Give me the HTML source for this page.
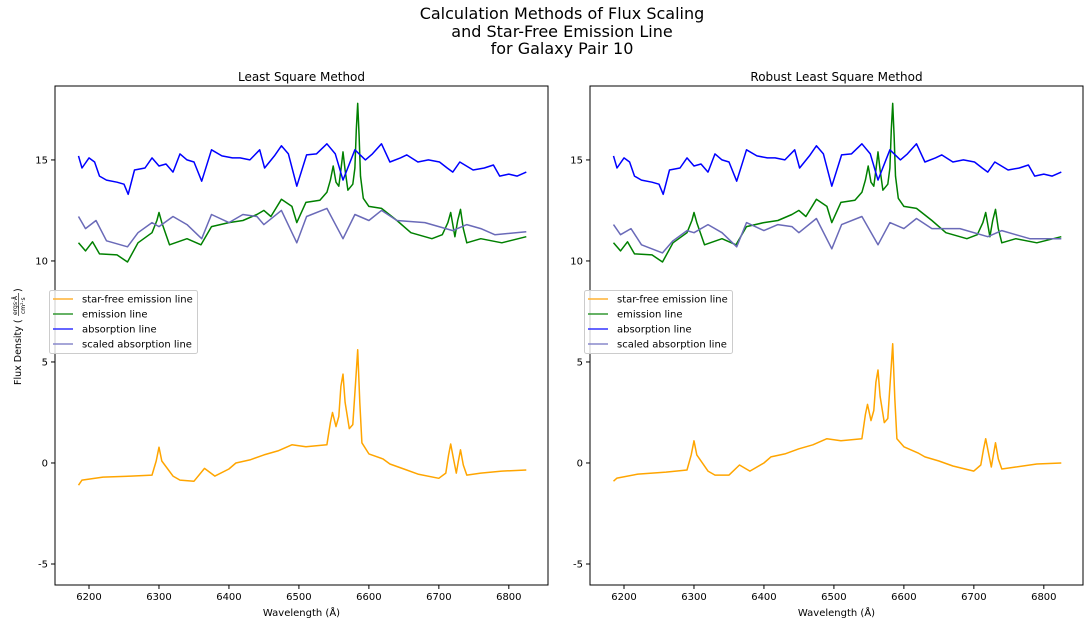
<!DOCTYPE html>
<html><head><meta charset="utf-8">
<style>
body{margin:0;background:#fff;}
svg{display:block;font-family:"DejaVu Sans","Liberation Sans",sans-serif;}
</style></head>
<body>
<svg id="fig" width="1090" height="628" viewBox="0 0 1090 628" xmlns="http://www.w3.org/2000/svg">
<rect width="1090" height="628" fill="#fff"/>
<g font-size="16" text-anchor="middle" fill="#000">
<text x="562" y="19">Calculation Methods of Flux Scaling</text>
<text x="562" y="37">and Star-Free Emission Line</text>
<text x="562" y="54">for Galaxy Pair 10</text>
</g>
<g id="panels"></g>
<g transform="translate(21,385) rotate(-90)" font-size="9.5">
<text x="0" y="0">Flux Density (</text>
<text x="70" y="-4" font-size="6">ergs·Å</text>
<line x1="69" x2="92" y1="-2.5" y2="-2.5" stroke="#000" stroke-width="0.6"/>
<text x="71" y="4" font-size="6">cm²·s</text>
<text x="93" y="0">)</text>
</g>
</svg>
<script>
// wavelength grids and values
const absWl = [6185,6190,6200,6208,6215,6225,6240,6250,6256,6265,6280,6290,6300,6310,6320,6330,6340,6350,6361,6375,6390,6405,6416,6430,6444,6451,6465,6475,6485,6497,6511,6525,6540,6552,6563,6580,6595,6605,6618,6630,6645,6654,6670,6685,6701,6712,6720,6730,6749,6765,6778,6787,6800,6812,6825];
const absVals = [15.2,14.6,15.1,14.9,14.2,14.0,13.9,13.8,13.3,14.5,14.6,15.1,14.7,14.8,14.4,15.3,15.0,14.9,13.95,15.5,15.2,15.1,15.1,15.0,15.5,14.6,15.2,15.7,15.3,13.7,15.25,15.3,15.8,15.3,14.0,15.5,15.0,15.3,15.8,14.9,15.1,15.25,14.9,15.0,14.9,14.6,14.4,14.9,14.5,14.6,14.75,14.2,14.3,14.2,14.4];
const emWl = [6185,6195,6205,6215,6240,6255,6270,6290,6297,6300,6304,6315,6340,6360,6375,6400,6420,6440,6450,6460,6475,6490,6497,6510,6530,6540,6545,6549,6553,6557,6560,6563,6566,6570,6577,6580,6582,6584,6586,6588,6592,6600,6618,6640,6660,6690,6705,6713,6717,6721,6723,6727,6731,6735,6740,6760,6790,6825];
const emVals = [10.9,10.5,10.95,10.35,10.3,9.95,10.9,11.4,12.0,12.4,11.9,10.8,11.1,10.8,11.7,11.9,12.0,12.3,12.5,12.2,13.05,12.7,11.9,12.9,13.0,13.4,14.0,14.7,13.9,13.7,14.5,15.4,14.5,13.5,13.8,14.6,16.5,17.8,16.2,14.2,13.1,12.7,12.6,12.0,11.4,11.1,11.3,11.9,12.4,11.6,11.2,12.0,12.55,11.6,10.9,11.1,10.9,11.2];
const scWl = [6185,6195,6210,6225,6255,6270,6290,6300,6320,6340,6361,6375,6400,6420,6440,6450,6475,6497,6511,6540,6563,6580,6600,6618,6640,6680,6720,6740,6760,6780,6825];
const scValsL = [12.2,11.6,12.0,11.0,10.7,11.4,11.9,11.7,12.2,11.8,11.1,12.3,11.9,12.3,12.2,11.8,12.5,10.9,12.2,12.6,11.1,12.3,12.0,12.5,12.0,11.9,11.5,11.8,11.6,11.3,11.45];
const scValsR = [11.8,11.3,11.6,10.8,10.4,11.0,11.5,11.4,11.8,11.4,10.7,11.9,11.5,11.8,11.7,11.4,12.1,10.6,11.8,12.2,10.8,11.9,11.6,12.1,11.6,11.6,11.2,11.5,11.3,11.1,11.1];
const sfWlL = [6185,6190,6220,6260,6290,6296,6300,6304,6320,6330,6350,6365,6380,6400,6410,6430,6450,6470,6490,6510,6540,6545,6548,6553,6557,6560,6563,6566,6572,6577,6581,6584,6587,6590,6600,6620,6630,6650,6670,6700,6710,6714,6717,6721,6725,6728,6731,6735,6740,6760,6790,6825];
const sfValsL = [-1.1,-0.85,-0.7,-0.65,-0.6,0.1,0.78,0.1,-0.65,-0.85,-0.9,-0.27,-0.65,-0.3,0.0,0.15,0.4,0.6,0.9,0.8,0.9,2.0,2.5,1.8,2.3,3.8,4.4,3.0,1.7,1.9,4.0,5.6,3.0,1.0,0.45,0.2,-0.05,-0.3,-0.55,-0.76,-0.5,0.4,0.94,0.2,-0.5,0.1,0.65,-0.1,-0.6,-0.5,-0.4,-0.35];
const sfValsR = [-0.9,-0.75,-0.55,-0.45,-0.35,0.4,1.1,0.4,-0.4,-0.6,-0.6,-0.1,-0.4,0.0,0.3,0.45,0.7,0.9,1.2,1.1,1.2,2.4,2.9,2.1,2.6,4.0,4.6,3.3,2.0,2.2,4.3,5.9,3.2,1.2,0.8,0.5,0.3,0.1,-0.15,-0.4,-0.1,0.7,1.2,0.5,-0.2,0.4,1.0,0.2,-0.3,-0.2,-0.05,0.0];
const xTicks = [6200,6300,6400,6500,6600,6700,6800];
const yTicks = [-5,0,5,10,15];
const panelTitles = ["Least Square Method","Robust Least Square Method"];
const legendLabels = ["star-free emission line","emission line","absorption line","scaled absorption line"];

const NS="http://www.w3.org/2000/svg";
function mk(tag,attrs,parent){const e=document.createElementNS(NS,tag);for(const k in attrs)e.setAttribute(k,attrs[k]);parent.appendChild(e);return e;}
const root=document.getElementById('panels');
const colors=["#ffa500","#008000","#0000ff","#6a6ab8"];
const legendColors=["#ffb233","#339933","#3333ff","#8888cc"];

[0,1].forEach(function(p){
  const off=p*535, L=55+off, R=548+off, T=86, B=585;
  const X=v=>L+(v-6151.4)/(6856-6151.4)*(R-L);
  const Y=v=>B-(v+6.04)/(18.66+6.04)*(B-T);
  const g=mk('g',{},root);
  
  
  const t=mk('text',{x:(L+R)/2,y:81,'font-size':12,'text-anchor':'middle'},g);
  t.textContent=panelTitles[p];
  
  
  function line(wl,vals,col,name){
    const d=wl.map((w,i)=>(i?'L':'M')+X(w).toFixed(1)+','+Y(vals[i]).toFixed(1)).join('');
    const pth=mk('path',{d:d,fill:'none',stroke:col,'stroke-width':1.5,'stroke-linejoin':'round'},g);
    
    
  }
  line(sfWlL,p?sfValsR:sfValsL,colors[0],'star-free-emission-series');
  line(emWl,emVals,colors[1],'emission-series');
  line(absWl,absVals,colors[2],'absorption-series');
  line(scWl,p?scValsR:scValsL,colors[3],'scaled-absorption-series');
  const fr=mk('rect',{x:L,y:T,width:R-L,height:B-T,fill:'none',stroke:'#000','stroke-width':1},g);
  
  
  xTicks.forEach(function(v){
    mk('line',{x1:X(v),x2:X(v),y1:B,y2:B+4,stroke:'#000'},g);
    const tt=mk('text',{x:X(v),y:B+15,'font-size':10,'text-anchor':'middle'},g);
    tt.textContent=v;
    
    
  });
  yTicks.forEach(function(v){
    mk('line',{x1:L-4,x2:L,y1:Y(v),y2:Y(v),stroke:'#000'},g);
    const tt=mk('text',{x:L-7,y:Y(v)+3.5,'font-size':10,'text-anchor':'end'},g);
    tt.textContent=v;
    
    
  });
  const xl=mk('text',{x:(L+R)/2,y:616,'font-size':10,'text-anchor':'middle'},g);
  xl.textContent='Wavelength (Å)';
  
  
  const lg=mk('g',{},g);
  
  
  mk('rect',{x:L-5.5,y:290.5,width:148,height:63,rx:2,fill:'#fff','fill-opacity':0.8,stroke:'#ccc'},lg);
  legendLabels.forEach(function(lab,i){
    const yy=299+i*15;
    mk('line',{x1:L-2,x2:L+18,y1:yy,y2:yy,stroke:legendColors[i],'stroke-width':1.5},lg);
    const lt=mk('text',{x:L+27,y:yy+3.5,'font-size':10},lg);
    lt.textContent=lab;
    
    
  });
});
</script>
</body></html>
